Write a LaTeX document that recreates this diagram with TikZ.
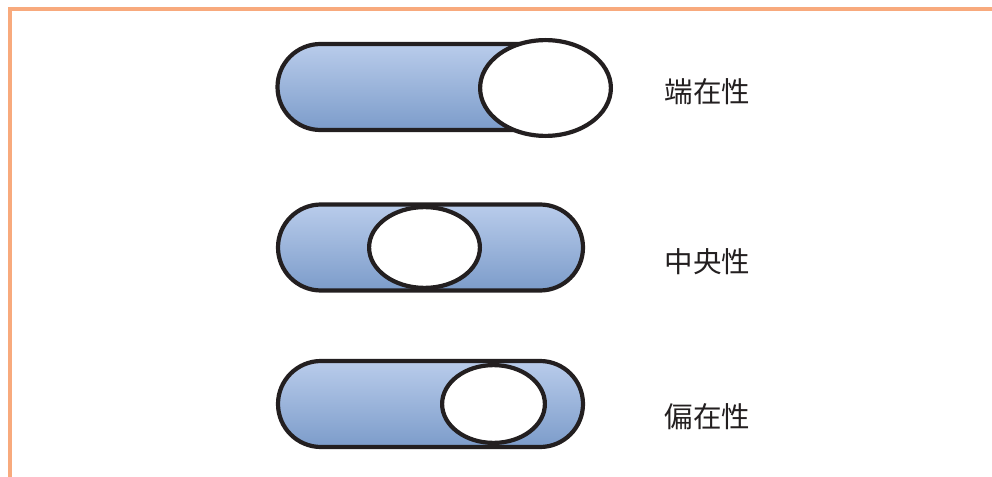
\documentclass[tikz,border=0pt]{standalone}
\usepackage{fontspec}
\newfontfamily\cjk{Noto Sans CJK JP}
\usetikzlibrary{shapes.misc,shapes.geometric}
\definecolor{frameor}{HTML}{F8AA7D}
\definecolor{capTop}{HTML}{B9CCEB}
\definecolor{capBot}{HTML}{7C9CCA}
\definecolor{inkdark}{HTML}{231F20}
\tikzset{
  capsule/.style={rounded rectangle, draw=inkdark, line width=4.2pt,
    top color=capTop, bottom color=capBot, minimum width=305pt,
    minimum height=86pt, inner sep=0pt},
  hole/.style={ellipse, draw=inkdark, line width=4.2pt, fill=white, inner sep=0pt},
  lbl/.style={font=\cjk\fontsize{28.5pt}{30pt}\selectfont, text=inkdark, inner sep=0pt}
}
\begin{document}
\begin{tikzpicture}[x=1pt,y=-1pt]
\useasboundingbox (0,0) rectangle (992,476);
\draw[frameor, line width=4pt] (10,478) -- (10,9) -- (994,9);
\node[capsule] (c1) at (430,87) {};
\node[hole, minimum width=130.8pt, minimum height=95.8pt] (e1) at (545.5,88) {};
\node[capsule] (c2) at (430.5,247.5) {};
\node[hole, minimum width=110.8pt, minimum height=80.8pt] (e2) at (424.5,247.5) {};
\node[capsule] (c3) at (430.5,404) {};
\node[hole, minimum width=102.8pt, minimum height=77.8pt] (e3) at (493.5,404) {};
\node[lbl, anchor=west] (t1) at (664.5,92) {端在性};
\node[lbl, anchor=west] (t2) at (664.5,262) {中央性};
\node[lbl, anchor=west] (t3) at (664.5,417) {偏在性};
\end{tikzpicture}
\end{document}
